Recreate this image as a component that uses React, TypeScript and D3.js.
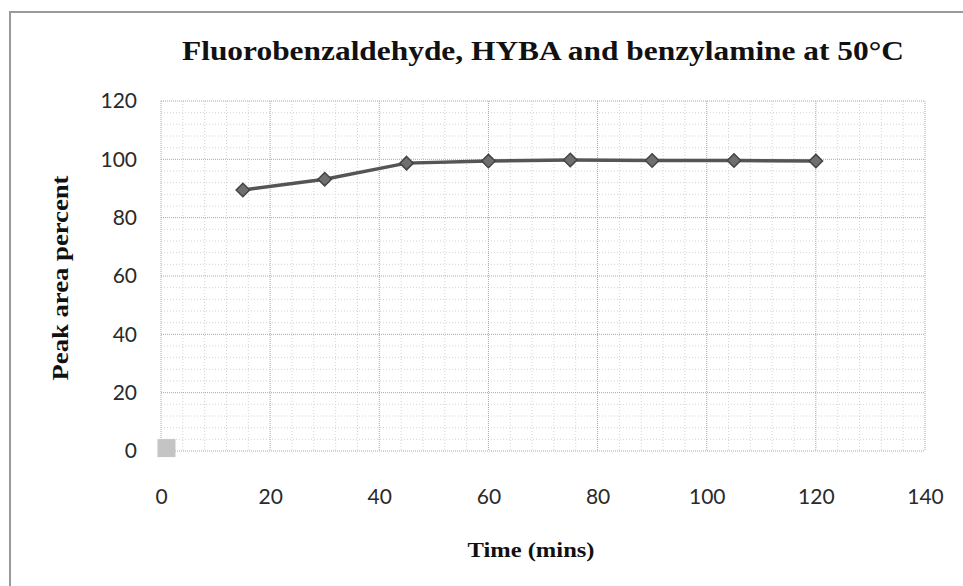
import { useEffect, useRef } from "react";
import * as d3 from "d3";

// Readings taken off the plot
const timeMins = [15, 30, 45, 60, 75, 90, 105, 120];
const peakAreaPercent = [89.5, 93.2, 98.7, 99.4, 99.8, 99.6, 99.6, 99.4];

// lone grey square near the origin (second series)
const blankTime = [1];
const blankPercent = [1];

const xTicks = [0, 20, 40, 60, 80, 100, 120, 140];
const yTicks = [0, 20, 40, 60, 80, 100, 120];

const chartTitle = "Fluorobenzaldehyde, HYBA and benzylamine at 50°C";
const xTitle = "Time (mins)";
const yTitle = "Peak area percent";

export default function App() {
  const svgRef = useRef<SVGSVGElement | null>(null);

  useEffect(() => {
    const svgElement = svgRef.current;
    if (!svgElement) return;

    const width = 963;
    const height = 586;
    const plot = { left: 161, right: 925, top: 101, bottom: 451 };

    const x = d3.scaleLinear().domain([0, 140]).range([plot.left, plot.right]);
    const y = d3.scaleLinear().domain([0, 120]).range([plot.bottom, plot.top]);

    const svg = d3.select(svgElement);
    svg.selectAll("*").remove();
    svg.attr("viewBox", `0 0 ${width} ${height}`);

    svg.append("rect").attr("width", width).attr("height", height).attr("fill", "#fff");

    // outer chart frame (runs off the right and bottom of the picture)
    svg
      .append("rect")
      .attr("x", 10)
      .attr("y", 12)
      .attr("width", width + 20)
      .attr("height", height + 20)
      .attr("fill", "none")
      .attr("stroke", "#9a9a9a")
      .attr("stroke-width", 2);

    const grid = svg.append("g");
    const minorX = d3.range(0, 141, 4).filter((v) => v % 20 !== 0);
    const minorY = d3.range(0, 121, 4).filter((v) => v % 20 !== 0);

    grid
      .selectAll("line.minor-x")
      .data(minorX)
      .join("line")
      .attr("class", "minor-x")
      .attr("x1", (d) => x(d))
      .attr("x2", (d) => x(d))
      .attr("y1", plot.top)
      .attr("y2", plot.bottom)
      .attr("stroke", "#d4d4d4")
      .attr("stroke-dasharray", "1,2");

    grid
      .selectAll("line.minor-y")
      .data(minorY)
      .join("line")
      .attr("class", "minor-y")
      .attr("x1", plot.left)
      .attr("x2", plot.right)
      .attr("y1", (d) => y(d))
      .attr("y2", (d) => y(d))
      .attr("stroke", "#d4d4d4")
      .attr("stroke-dasharray", "1,2");

    grid
      .selectAll("line.major-x")
      .data(xTicks)
      .join("line")
      .attr("class", "major-x")
      .attr("x1", (d) => x(d))
      .attr("x2", (d) => x(d))
      .attr("y1", plot.top)
      .attr("y2", plot.bottom)
      .attr("stroke", "#a8a8a8")
      .attr("stroke-dasharray", "1,1");

    grid
      .selectAll("line.major-y")
      .data(yTicks)
      .join("line")
      .attr("class", "major-y")
      .attr("x1", plot.left)
      .attr("x2", plot.right)
      .attr("y1", (d) => y(d))
      .attr("y2", (d) => y(d))
      .attr("stroke", "#a8a8a8")
      .attr("stroke-dasharray", "1,1");

    // tick labels
    const xAxis = svg
      .append("g")
      .attr("transform", `translate(0, ${plot.bottom + 38})`)
      .call(d3.axisBottom(x).tickValues(xTicks).tickSize(0).tickPadding(0));
    xAxis.select(".domain").remove();
    xAxis
      .selectAll("text")
      .attr("font-family", "Lato, 'Open Sans', sans-serif")
      .attr("font-size", 21)
      .attr("fill", "#2a2a2a")
      .attr("dy", "0.71em");

    const yAxis = svg
      .append("g")
      .attr("transform", `translate(${plot.left - 24}, 0)`)
      .call(d3.axisLeft(y).tickValues(yTicks).tickSize(0).tickPadding(0));
    yAxis.select(".domain").remove();
    yAxis
      .selectAll("text")
      .attr("font-family", "Lato, 'Open Sans', sans-serif")
      .attr("font-size", 21)
      .attr("fill", "#2a2a2a");

    // series line + diamonds
    const points = timeMins.map((t, i) => [t, peakAreaPercent[i]] as [number, number]);
    const line = d3
      .line<[number, number]>()
      .x((d) => x(d[0]))
      .y((d) => y(d[1]));

    svg
      .append("path")
      .datum(points)
      .attr("d", line)
      .attr("fill", "none")
      .attr("stroke", "#555")
      .attr("stroke-width", 3.5);

    const diamond = d3.symbol().type(d3.symbolDiamond2).size(115);
    svg
      .selectAll("path.marker")
      .data(points)
      .join("path")
      .attr("class", "marker")
      .attr("d", diamond)
      .attr("transform", (d) => `translate(${x(d[0])}, ${y(d[1])})`)
      .attr("fill", "#6f6f6f")
      .attr("stroke", "#444")
      .attr("stroke-width", 1.5);

    svg
      .selectAll("rect.blank")
      .data(blankTime.map((t, i) => [t, blankPercent[i]]))
      .join("rect")
      .attr("class", "blank")
      .attr("x", (d) => x(d[0]) - 9)
      .attr("y", (d) => y(d[1]) - 9)
      .attr("width", 18)
      .attr("height", 18)
      .attr("fill", "#c4c4c4");

    // titles
    const serif = "'Liberation Serif', 'DejaVu Serif', serif";
    svg
      .append("text")
      .attr("x", 543)
      .attr("y", 60)
      .attr("text-anchor", "middle")
      .attr("font-family", serif)
      .attr("font-weight", "bold")
      .attr("font-size", 28)
      .attr("textLength", 722)
      .attr("lengthAdjust", "spacingAndGlyphs")
      .attr("fill", "#111")
      .text(chartTitle);

    svg
      .append("text")
      .attr("x", 531)
      .attr("y", 557)
      .attr("text-anchor", "middle")
      .attr("font-family", serif)
      .attr("font-weight", "bold")
      .attr("font-size", 22)
      .attr("textLength", 127)
      .attr("lengthAdjust", "spacingAndGlyphs")
      .attr("fill", "#111")
      .text(xTitle);

    svg
      .append("text")
      .attr("transform", "translate(68, 278) rotate(-90)")
      .attr("text-anchor", "middle")
      .attr("font-family", serif)
      .attr("font-weight", "bold")
      .attr("font-size", 23)
      .attr("textLength", 205)
      .attr("lengthAdjust", "spacingAndGlyphs")
      .attr("fill", "#111")
      .text(yTitle);
  }, []);

  return (
    <svg
      ref={svgRef}
      width={963}
      height={586}
      style={{ position: "absolute", left: 0, top: 0, display: "block" }}
      role="img"
      aria-label={chartTitle}
    />
  );
}
